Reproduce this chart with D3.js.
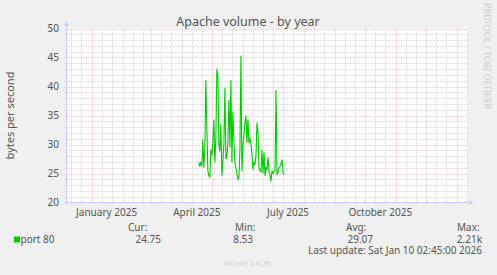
<!DOCTYPE html>
<html>
<head>
<meta charset="utf-8">
<script src="https://cdn.jsdelivr.net/npm/d3@7"></script>
<style>
  body { margin: 0; background: #f0f0f0; }
  svg { display: block; font-family: "Noto Sans", sans-serif; }
</style>
</head>
<body>
<div id="chart"></div>
<script>
// chart values
var title = "Apache volume - by year";
var yLabel = "bytes per second";
var seriesName = "port 80";
var firstDay = "2025-04-18";   // one value per day from here
var port80 = [26.9, 26.2, 27.0, 26.3, 30.9, 26.0, 29.0, 41.1, 33.0, 25.5,
  24.6, 24.4, 29.1, 28.2, 30.5, 34.3, 26.9, 31.0, 43.0, 41.8,
  30.0, 28.8, 33.5, 24.6, 27.0, 30.0, 39.8, 27.5, 28.0, 30.5,
  37.7, 29.5, 41.1, 27.0, 35.7, 30.5, 26.9, 26.0, 25.0, 24.0,
  24.3, 29.0, 45.3, 25.4, 30.0, 31.5, 33.7, 35.0, 30.3, 34.3,
  30.2, 31.2, 30.0, 28.3, 25.7, 27.0, 26.5, 28.0, 33.8, 32.0,
  26.0, 25.5, 25.3, 29.1, 25.0, 28.6, 24.6, 26.1, 25.6, 27.8,
  25.2, 24.8, 23.7, 25.5, 25.0, 25.3, 25.5, 39.4, 24.8, 25.2,
  26.0, 26.2, 26.8, 27.4, 25.2, 24.8];
var yTicks = [20, 25, 30, 35, 40, 45, 50];
var monthLabels = ["2025-01-01", "2025-04-01", "2025-07-01", "2025-10-01"];
var legendHeads = ["Cur:", "Min:", "Avg:", "Max:"];
var legendValues = ["24.75", "8.53", "29.07", "2.21k"];
var lastUpdate = "Last update: Sat Jan 10 02:45:00 2026";
var version = "Munin 2.0.76";
var watermark = "RRDTOOL / TOBI OETIKER";

var W = 497, H = 275;
var pL = 66.5, pR = 468, pT = 28.5, pB = 202.5;

var svg = d3.select("#chart").append("svg")
  .attr("width", W).attr("height", H);
svg.append("rect").attr("width", W).attr("height", H).attr("fill", "#f0f0f0");
svg.append("rect")
  .attr("x", pL).attr("y", pT)
  .attr("width", pR - pL).attr("height", pB - pT)
  .attr("fill", "#ffffff");

var x = d3.scaleUtc()
  .domain([new Date(Date.UTC(2024, 11, 7)), new Date(Date.UTC(2026, 0, 11, 12))])
  .range([pL, pR]);
var y = d3.scaleLinear().domain([20, 50]).range([pB, pT]);

var minorCol = "#dedede", majorCol = "#f2bcbc";

// horizontal grid
var g = svg.append("g");
d3.range(21, 50).forEach(function(v){
  if (v % 5 == 0) return;
  g.append("line")
    .attr("x1", pL - 2).attr("x2", pR)
    .attr("y1", Math.round(y(v)) + 0.5).attr("y2", Math.round(y(v)) + 0.5)
    .attr("stroke", minorCol).attr("stroke-dasharray", "2,1");
});
yTicks.forEach(function(v){
  if (v == 20) return;
  g.append("line")
    .attr("x1", pL - 2).attr("x2", pR)
    .attr("y1", Math.round(y(v)) + 0.5).attr("y2", Math.round(y(v)) + 0.5)
    .attr("stroke", majorCol).attr("stroke-dasharray", "1,1");
});

// vertical grid: months red, 11th and 21st grey
var days = d3.utcDay.range(x.domain()[0], x.domain()[1]);
days.forEach(function(d){
  var dd = d.getUTCDate();
  if (dd != 1 && dd != 11 && dd != 21) return;
  var px = Math.round(x(d)) + 0.5;
  g.append("line")
    .attr("x1", px).attr("x2", px)
    .attr("y1", pT).attr("y2", pB + 2)
    .attr("stroke", dd == 1 ? majorCol : minorCol)
    .attr("stroke-dasharray", dd == 1 ? "1,1" : "2,1");
});

// axes
var axisCol = "#c9cef5";
svg.append("line").attr("x1", pL).attr("x2", pL)
  .attr("y1", 22).attr("y2", pB + 2).attr("stroke", axisCol);
svg.append("line").attr("x1", pL - 2).attr("x2", pR + 3)
  .attr("y1", pB).attr("y2", pB).attr("stroke", axisCol);
svg.append("path").attr("d", "M" + (pL - 2.5) + ",26 L" + pL + ",21 L" + (pL + 2.5) + ",26 Z")
  .attr("fill", axisCol);
svg.append("path").attr("d", "M" + (pR + 1) + "," + (pB - 2.5) + " L" + (pR + 6) + "," + pB + " L" + (pR + 1) + "," + (pB + 2.5) + " Z")
  .attr("fill", axisCol);

// tick labels
var txtCol = "#555555";
yTicks.forEach(function(v){
  svg.append("text")
    .attr("x", 59).attr("y", y(v) + 3.6)
    .attr("text-anchor", "end")
    .attr("font-size", 10).attr("fill", txtCol)
    .text(v);
});
var fmtMonth = d3.utcFormat("%B %Y");
monthLabels.forEach(function(m){
  var d = new Date(m + "T00:00:00Z");
  svg.append("text")
    .attr("x", x(d3.utcDay.offset(d, 15))).attr("y", 216)
    .attr("text-anchor", "middle")
    .attr("font-size", 10).attr("fill", txtCol)
    .text(fmtMonth(d));
});

// data line
var start = new Date(firstDay + "T00:00:00Z");
var data = port80.map(function(v, i){ return {date: d3.utcDay.offset(start, i), value: v}; });
var line = d3.line()
  .x(function(d){ return x(d.date); })
  .y(function(d){ return y(d.value); });
svg.append("path")
  .datum(data)
  .attr("fill", "none")
  .attr("stroke", "#00cc00")
  .attr("stroke-width", 1.1)
  .attr("d", line);

// title and labels
svg.append("text").attr("x", 248).attr("y", 26)
  .attr("text-anchor", "middle").attr("font-size", 12.5).attr("fill", txtCol)
  .text(title);
svg.append("text")
  .attr("transform", "translate(14," + ((pT + pB) / 2) + ") rotate(-90)")
  .attr("text-anchor", "middle").attr("font-size", 11).attr("fill", txtCol)
  .text(yLabel);
svg.append("text")
  .attr("transform", "translate(484,56) rotate(90)")
  .attr("text-anchor", "middle").attr("font-size", 8.8).attr("fill", "#cccccc")
  .text(watermark);

// legend
svg.append("rect").attr("x", 14).attr("y", 236.5).attr("width", 6).attr("height", 6)
  .attr("fill", "#00cc00");
svg.append("text").attr("x", 20.5).attr("y", 243)
  .attr("font-size", 10).attr("fill", txtCol).text(seriesName);
var headX = [128, 235, 346, 457];
var valRight = [161, 253, 373, 482];
legendHeads.forEach(function(h, i){
  svg.append("text").attr("x", headX[i]).attr("y", 231)
    .attr("font-size", 10).attr("fill", txtCol).text(h);
  svg.append("text").attr("x", valRight[i]).attr("y", 243)
    .attr("text-anchor", "end")
    .attr("font-size", 10).attr("fill", txtCol).text(legendValues[i]);
});
svg.append("text").attr("x", 482).attr("y", 254)
  .attr("text-anchor", "end").attr("font-size", 10).attr("fill", txtCol)
  .text(lastUpdate);
svg.append("text").attr("x", 248).attr("y", 266)
  .attr("text-anchor", "middle").attr("font-size", 7.5).attr("fill", "#cccccc")
  .text(version);
</script>
</body>
</html>
